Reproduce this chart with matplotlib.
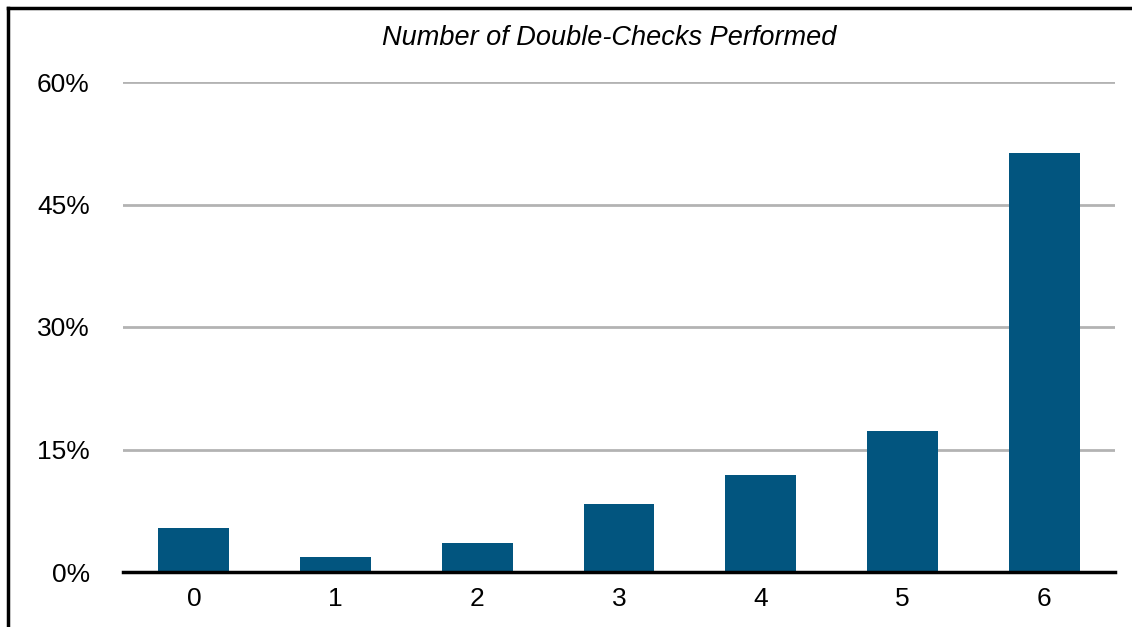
import numpy as np
import matplotlib.pyplot as plt
from matplotlib.lines import Line2D

checks = ['0', '1', '2', '3', '4', '5', '6']
share = [5.4, 1.8, 3.5, 8.3, 11.9, 17.3, 51.3]
y_ticks = [0, 15, 30, 45, 60]
y_labels = ['0%', '15%', '30%', '45%', '60%']

plt.rcParams['font.family'] = ['Liberation Sans', 'DejaVu Sans']

W, H = 1132, 627
fig = plt.figure(figsize=(W / 100, H / 100), dpi=100)
ax = fig.add_axes([123 / W, 1 - 572 / H, (1115 - 123) / W, (572 - 82) / H])

X = np.arange(len(share))
ax.bar(X, share, width=0.5, color='#02557F', zorder=3)
ax.set_xlim(-0.5, len(share) - 0.5)
ax.set_ylim(0, 60)
ax.set_yticks(y_ticks)
ax.set_yticklabels(y_labels)
ax.set_xticks(X)
ax.set_xticklabels(checks)
ax.grid(axis='y', color='#b3b3b3', linewidth=2, zorder=0)
ax.set_axisbelow(True)
for side in ['top', 'right', 'left']:
    ax.spines[side].set_visible(False)
ax.spines['bottom'].set_linewidth(2.5)
ax.spines['bottom'].set_zorder(4)
ax.tick_params(axis='both', length=0, labelsize=19, colors='black')
ax.tick_params(axis='y', pad=24)
ax.tick_params(axis='x', pad=11)

fig.text(609 / W, 1 - 38 / H, 'Number of Double-Checks Performed', ha='center',
         va='center', fontsize=19.5, style='italic')

# frame lines (top and left) of the source graphic
fig.add_artist(Line2D([8 / W, 1], [1 - 8 / H, 1 - 8 / H], color='black', linewidth=2.5,
                      transform=fig.transFigure))
fig.add_artist(Line2D([8 / W, 8 / W], [0, 1 - 8 / H], color='black', linewidth=2.5,
                      transform=fig.transFigure))

fig.savefig('out.png', dpi=100)
